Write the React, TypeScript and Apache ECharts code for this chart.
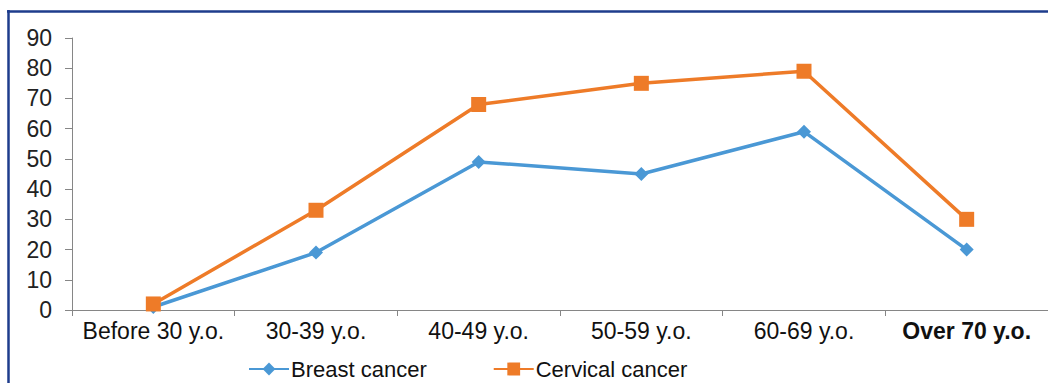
import React, { useEffect, useRef } from "react";
import * as echarts from "echarts";

const categories = ["Before 30 y.o.", "30-39 y.o.", "40-49 y.o.", "50-59 y.o.", "60-69 y.o.", "Over 70 y.o."];
const breastCancer = [1, 19, 49, 45, 59, 20];
const cervicalCancer = [2, 33, 68, 75, 79, 30];
const seriesNames = ["Breast cancer", "Cervical cancer"];

export default function App() {
  const ref = useRef<HTMLDivElement>(null);
  useEffect(() => {
    if (!ref.current) return;
    const chart = echarts.init(ref.current, undefined, { renderer: "svg" });
    const font = "'Liberation Sans', Arial, sans-serif";
    chart.setOption({
      animation: false,
      backgroundColor: "#ffffff",
      textStyle: { fontFamily: font },
      grid: { left: 72, right: 0, top: 38, bottom: 73, containLabel: false },
      legend: {
        data: seriesNames,
        left: 243,
        top: 353,
        itemWidth: 40,
        itemHeight: 16,
        itemGap: 66,
        textStyle: { fontSize: 22, color: "#111", fontFamily: font, padding: [0, 0, 0, -3] },
      },
      xAxis: {
        type: "category",
        data: categories,
        boundaryGap: true,
        axisLine: { lineStyle: { color: "#868686", width: 1 } },
        axisTick: { show: true, length: 6, lineStyle: { color: "#868686" } },
        axisLabel: {
          fontSize: 23,
          color: "#111",
          margin: 9,
          fontFamily: font,
          interval: 0,
          formatter: (v: string) => (v === "Over 70 y.o." ? "{b|" + v + "}" : v),
          rich: { b: { fontWeight: "bold", fontSize: 23, color: "#111", fontFamily: font } },
        },
        splitLine: { show: false },
      },
      yAxis: {
        type: "value",
        min: 0,
        max: 90,
        interval: 10,
        axisLine: { show: true, lineStyle: { color: "#868686", width: 1 } },
        axisTick: { show: true, length: 7, lineStyle: { color: "#868686" } },
        axisLabel: { fontSize: 23, color: "#222", margin: 20, fontFamily: font },
        splitLine: { show: false },
      },
      series: [
        {
          name: seriesNames[0],
          type: "line",
          data: breastCancer,
          symbol: "diamond",
          symbolSize: 14,
          lineStyle: { color: "#4A98D5", width: 3.5 },
          itemStyle: { color: "#4A98D5" },
        },
        {
          name: seriesNames[1],
          type: "line",
          data: cervicalCancer,
          symbol: "rect",
          symbolSize: 15,
          lineStyle: { color: "#EE7B28", width: 3.5 },
          itemStyle: { color: "#EE7B28" },
        },
      ],
      graphic: [
        { type: "line", shape: { x1: 7, y1: 11.5, x2: 1048, y2: 11.5 }, style: { stroke: "#1E3C8C", lineWidth: 2.5 } },
        { type: "line", shape: { x1: 8.5, y1: 10, x2: 8.5, y2: 383 }, style: { stroke: "#1E3C8C", lineWidth: 2.5 } },
      ],
    });
    return () => chart.dispose();
  }, []);
  return <div ref={ref} style={{ position: "fixed", left: 0, top: 0, width: 1048, height: 383 }} />;
}
